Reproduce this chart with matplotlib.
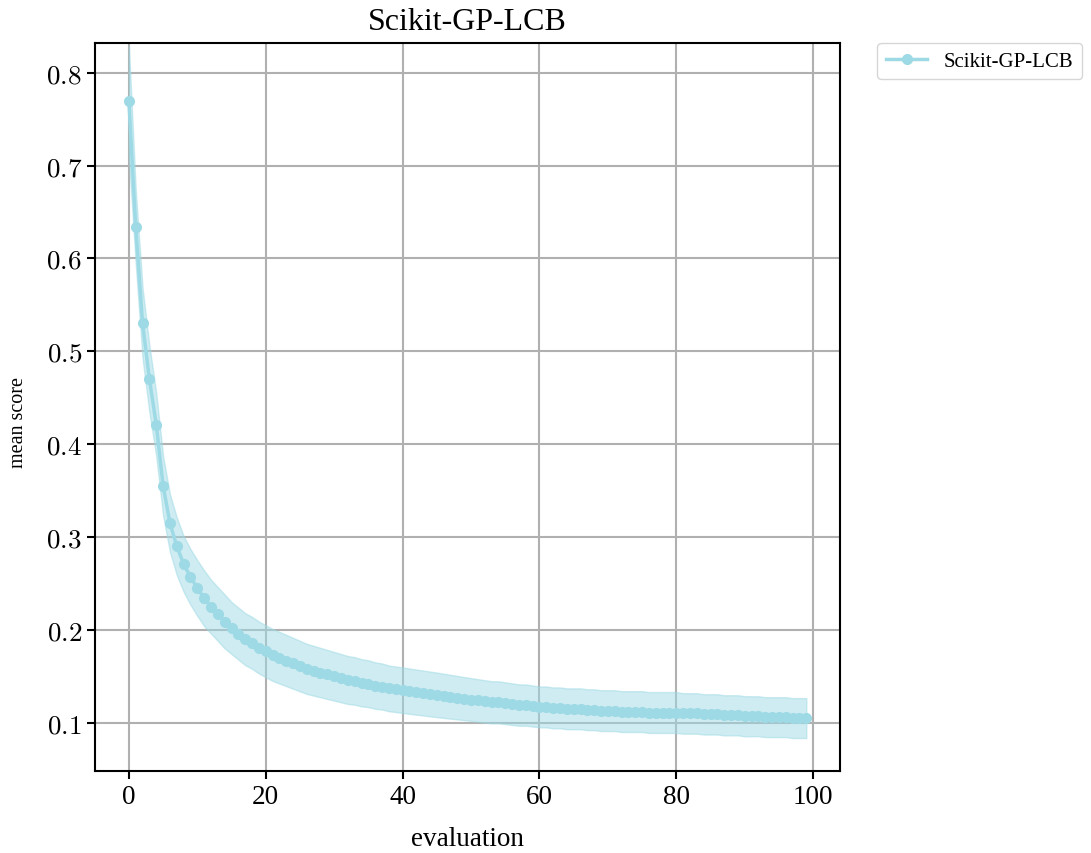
import matplotlib.pyplot as plt
from matplotlib.ticker import FuncFormatter

plt.rcParams['font.family'] = ['Liberation Serif', 'DejaVu Serif']
plt.rcParams['mathtext.fontset'] = 'cm'

label = 'Scikit-GP-LCB'
color = '#9edae5'

# mean score per evaluation (0..99)
mean_score = [
    0.769, 0.634, 0.530, 0.470, 0.421, 0.355, 0.315, 0.290, 0.271, 0.257,
    0.245, 0.234, 0.225, 0.217, 0.209, 0.202, 0.196, 0.190, 0.186, 0.181,
    0.177, 0.173, 0.170, 0.167, 0.164, 0.161, 0.158, 0.156, 0.154, 0.152,
    0.150, 0.148, 0.146, 0.145, 0.143, 0.142, 0.140, 0.139, 0.137, 0.136,
    0.135, 0.134, 0.133, 0.132, 0.131, 0.130, 0.129, 0.128, 0.127, 0.126,
    0.125, 0.124, 0.123, 0.122, 0.122, 0.121, 0.120, 0.119, 0.119, 0.118,
    0.117, 0.117, 0.116, 0.116, 0.115, 0.115, 0.115, 0.114, 0.114, 0.113,
    0.113, 0.113, 0.112, 0.112, 0.112, 0.112, 0.111, 0.111, 0.111, 0.111,
    0.111, 0.110, 0.110, 0.110, 0.109, 0.109, 0.109, 0.108, 0.108, 0.108,
    0.107, 0.107, 0.107, 0.106, 0.106, 0.106, 0.106, 0.105, 0.105, 0.105,
]

# standard deviation across runs
std_score = [
    0.060, 0.040, 0.038, 0.036, 0.034, 0.032, 0.031, 0.031, 0.030, 0.030,
    0.030, 0.030, 0.029, 0.029, 0.029, 0.028, 0.028, 0.028, 0.028, 0.028,
    0.028, 0.028, 0.0278, 0.0276, 0.0274, 0.0272, 0.027, 0.0268, 0.0266, 0.0264,
    0.0262, 0.026, 0.0258, 0.0256, 0.0254, 0.0252, 0.025, 0.0248, 0.0246, 0.0245,
    0.0245, 0.0244, 0.0243, 0.0242, 0.0241, 0.024, 0.0238, 0.0236, 0.0234, 0.0232,
    0.023, 0.0229, 0.0228, 0.0227, 0.0226, 0.0225, 0.0224, 0.0223, 0.0222, 0.0221,
    0.022, 0.022, 0.022, 0.022, 0.022, 0.022, 0.022, 0.022, 0.022, 0.022,
    0.022, 0.022, 0.022, 0.022, 0.022, 0.022, 0.022, 0.022, 0.022, 0.022,
    0.022, 0.0218, 0.0218, 0.0218, 0.0217, 0.0217, 0.0217, 0.0216, 0.0216, 0.0216,
    0.0216, 0.0215, 0.0215, 0.0215, 0.0215, 0.0215, 0.0215, 0.0215, 0.0215, 0.0215,
]

evals = list(range(len(mean_score)))
lower = [m - s for m, s in zip(mean_score, std_score)]
upper = [m + s for m, s in zip(mean_score, std_score)]

fig = plt.figure(figsize=(10.91, 8.54), dpi=100)
ax = fig.add_axes([0.0871, 0.096, 0.683, 0.8525])

ax.plot(evals, mean_score, color=color, marker='o', markersize=7, linewidth=2.5, label=label)
ax.fill_between(evals, lower, upper, color=color, alpha=0.5)

ax.set_ylim(0.048, 0.832)
ax.grid(True, color='#b0b0b0', linewidth=1.5)
ax.set_axisbelow(True)
ax.yaxis.set_major_formatter(FuncFormatter(lambda v, p: r'$%.1f$' % v))
ax.tick_params(labelsize=19.5, width=1.5, length=6)
for sp in ax.spines.values():
    sp.set_linewidth(1.5)

ax.set_title(label, fontsize=23, pad=10)
ax.set_xlabel('evaluation', fontsize=19.5, labelpad=12)
ax.set_ylabel('mean score', fontsize=14.5)
ax.yaxis.set_label_coords(-0.09, 0.48)
ax.legend(bbox_to_anchor=(1.05, 1), loc='upper left', borderaxespad=0, fontsize=15)

fig.savefig('out.png', dpi=100)
